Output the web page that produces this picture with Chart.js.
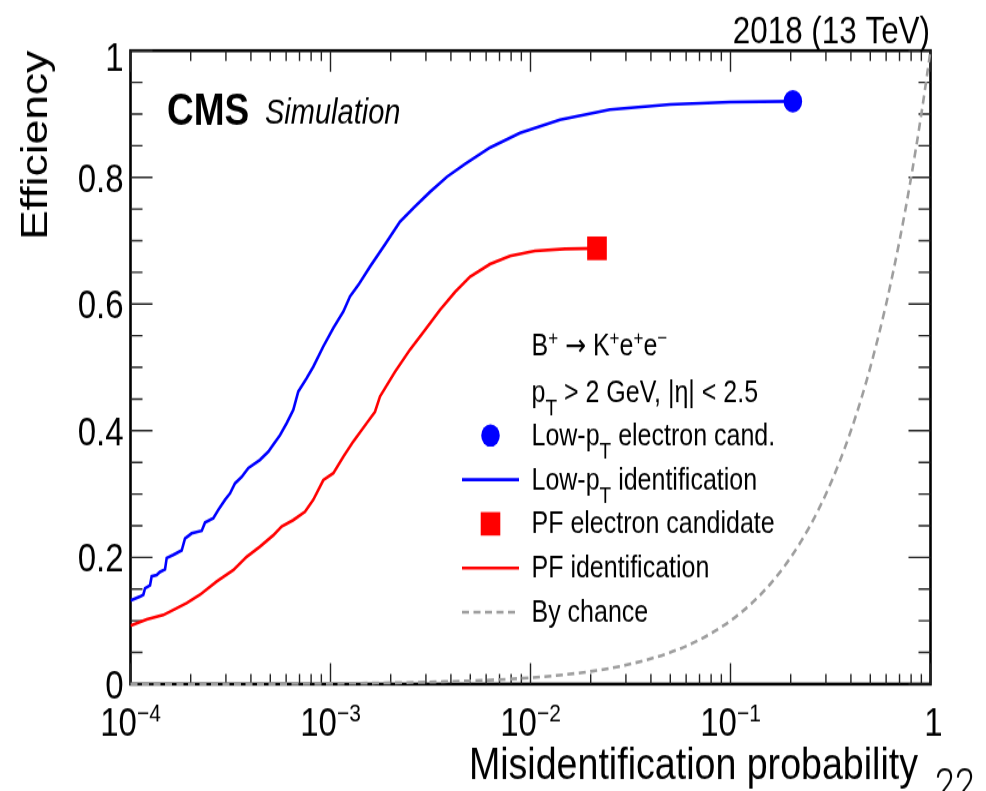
<!DOCTYPE html>
<html>
<head>
<meta charset="utf-8">
<script src="https://cdn.jsdelivr.net/npm/chart.js@4.4.1/dist/chart.umd.min.js"></script>
<style>
  html, body { margin: 0; padding: 0; background: #fff; overflow: hidden; width: 986px; height: 791px; }
  #page { position: relative; width: 986px; height: 791px; }
  #wrap { position: absolute; left: 0; top: 0; width: 986px; height: 659px; transform: scaleY(1.2003); transform-origin: 0 0; }
  canvas { display: block; }
</style>
</head>
<body>
<div id="page"><div id="wrap"><canvas id="c" width="986" height="659"></canvas></div></div>
<script>
// ---- data -------------------------------------------------------------
// Low-pT electron identification: misidentification probability vs efficiency
const lowPtMisid = [1.000e-4, 1.115e-4, 1.159e-4, 1.182e-4, 1.252e-4, 1.276e-4, 1.352e-4, 1.404e-4,
  1.488e-4, 1.517e-4, 1.637e-4, 1.803e-4, 1.873e-4, 2.023e-4, 2.270e-4, 2.358e-4, 2.594e-4,
  2.748e-4, 2.969e-4, 3.145e-4, 3.331e-4, 3.597e-4, 3.882e-4, 4.440e-4, 4.887e-4, 5.176e-4,
  5.592e-4, 6.039e-4, 6.516e-4, 6.902e-4, 7.603e-4, 8.204e-4, 9.204e-4, 1.033e-3, 1.159e-3,
  1.252e-3, 1.377e-3, 1.576e-3, 1.873e-3, 2.225e-3, 2.645e-3, 3.145e-3, 3.825e-3, 4.704e-3,
  6.272e-3, 8.860e-3, 1.404e-2, 2.497e-2, 4.983e-2, 9.940e-2, 2.050e-1];
const lowPtEff = [0.132, 0.138, 0.141, 0.151, 0.156, 0.170, 0.172, 0.177,
  0.181, 0.199, 0.204, 0.211, 0.230, 0.238, 0.242, 0.255, 0.262,
  0.275, 0.291, 0.301, 0.317, 0.327, 0.341, 0.354, 0.367, 0.378,
  0.393, 0.412, 0.433, 0.462, 0.483, 0.501, 0.533, 0.562, 0.588,
  0.612, 0.630, 0.659, 0.694, 0.730, 0.754, 0.777, 0.801, 0.821,
  0.847, 0.870, 0.891, 0.907, 0.915, 0.919, 0.920];

// PF electron identification
const pfMisid = [1.000e-4, 1.205e-4, 1.459e-4, 1.637e-4, 1.910e-4, 2.225e-4, 2.699e-4, 3.266e-4,
  3.811e-4, 4.440e-4, 5.176e-4, 5.702e-4, 6.516e-4, 7.456e-4, 8.204e-4, 9.204e-4, 1.033e-3,
  1.159e-3, 1.300e-3, 1.517e-3, 1.669e-3, 1.768e-3, 2.101e-3, 2.497e-3, 2.969e-3, 3.529e-3,
  4.194e-3, 4.984e-3, 6.272e-3, 7.896e-3, 1.053e-2, 1.488e-2, 2.150e-2];
const pfEff = [0.092, 0.102, 0.109, 0.117, 0.128, 0.141, 0.162, 0.180,
  0.201, 0.217, 0.235, 0.249, 0.259, 0.272, 0.291, 0.322, 0.333,
  0.359, 0.383, 0.412, 0.430, 0.454, 0.493, 0.528, 0.559, 0.591,
  0.619, 0.643, 0.663, 0.676, 0.684, 0.687, 0.688];

// Random guessing: efficiency equals misidentification probability
const chanceMisid = [0.0001, 0.001, 0.003, 0.01, 0.02, 0.03, 0.05, 0.07, 0.1, 0.13, 0.16, 0.2,
  0.25, 0.3, 0.35, 0.4, 0.45, 0.5, 0.6, 0.7, 0.8, 0.9, 1.0];
const chanceEff = [0.0001, 0.001, 0.003, 0.01, 0.02, 0.03, 0.05, 0.07, 0.1, 0.13, 0.16, 0.2,
  0.25, 0.3, 0.35, 0.4, 0.45, 0.5, 0.6, 0.7, 0.8, 0.9, 1.0];

// Working points of the electron candidates [misid, efficiency]
const lowPtCandPoint = [0.205, 0.920];
const pfCandPoint = [0.0215, 0.688];

// Axis ticks
const xTickValues = [1e-4, 1e-3, 1e-2, 1e-1, 1];
const xTickExponents = ['\u22124', '\u22123', '\u22122', '\u22121', ''];
const yTickValues = [0, 0.2, 0.4, 0.6, 0.8, 1];
const yTickLabels = ['0', '0.2', '0.4', '0.6', '0.8', '1'];

// ---- styling helpers ---------------------------------------------------
const FAMILY = '"Liberation Sans", Arial, Helvetica, sans-serif';
const ARROW_FAMILY = '"DejaVu Sans", sans-serif';
const BLUE = '#0000ff', RED = '#ff0000', GREY = '#9e9e9e';
const f = (size, style, fam) => `${style || ''} ${size}px ${fam || FAMILY}`;

// Draw a run of text pieces [text, size, dy, style, family] starting from x
function rich(ctx, x, y, parts, align) {
  ctx.textAlign = 'left';
  const widths = parts.map(p => { ctx.font = f(p[1], p[3], p[4]); return ctx.measureText(p[0]).width; });
  const total = widths.reduce((a, b) => a + b, 0);
  let cx = align === 'center' ? x - total / 2 : (align === 'right' ? x - total : x);
  parts.forEach((p, i) => {
    ctx.font = f(p[1], p[3], p[4]);
    ctx.fillText(p[0], cx, y + (p[2] || 0));
    cx += widths[i];
  });
}

// ROOT-like frame, inward ticks, labels, legend and captions
const rootFrame = {
  id: 'rootFrame',
  beforeDatasetsDraw(chart) {
    const { ctx, chartArea: a, scales: { x, y } } = chart;
    ctx.save();
    ctx.strokeStyle = '#000';
    ctx.lineWidth = 2.6;
    ctx.strokeRect(a.left, a.top, a.right - a.left, a.bottom - a.top);

    ctx.lineWidth = 1.4;
    ctx.strokeStyle = '#222';
    ctx.beginPath();
    // x ticks (bottom and top)
    for (let d = -4; d <= 0; d++) {
      for (let k = 1; k <= 9; k++) {
        const v = k * Math.pow(10, d);
        if (v > 1.0000001) break;
        const px = x.getPixelForValue(v);
        const len = k === 1 ? 17.5 : 8.5;
        ctx.moveTo(px, a.bottom); ctx.lineTo(px, a.bottom - len);
        ctx.moveTo(px, a.top); ctx.lineTo(px, a.top + len);
      }
    }
    // y ticks (left and right)
    for (let i = 0; i <= 20; i++) {
      const v = i * 0.05;
      const py = y.getPixelForValue(v);
      const len = i % 4 === 0 ? 22 : 12;
      ctx.moveTo(a.left, py); ctx.lineTo(a.left + len, py);
      ctx.moveTo(a.right, py); ctx.lineTo(a.right - len, py);
    }
    ctx.stroke();
    ctx.restore();
  },
  afterDraw(chart) {
    const { ctx, chartArea: a, scales: { x, y } } = chart;
    ctx.save();
    ctx.fillStyle = '#000';
    ctx.textBaseline = 'alphabetic';

    // y tick labels
    ctx.font = f(33);
    ctx.textAlign = 'right';
    yTickValues.forEach((v, i) => {
      const shift = v === 1 ? 5 : 0;
      ctx.fillText(yTickLabels[i], a.left - 7, y.getPixelForValue(v) + 11.8 + shift);
    });

    // x tick labels (powers of ten)
    xTickValues.forEach((v, i) => {
      const px = x.getPixelForValue(v);
      if (xTickExponents[i]) {
        rich(ctx, px, 612.5, [['10', 33, 0], [xTickExponents[i], 21, -11.5]], 'center');
      } else {
        rich(ctx, px + 3, 612.5, [['1', 33, 0]], 'center');
      }
    });

    // axis titles
    ctx.font = f(37.6);
    ctx.textAlign = 'right';
    ctx.fillText('Misidentification probability', 918, 648.5);
    ctx.save();
    ctx.translate(47, a.top);
    ctx.rotate(-Math.PI / 2);
    ctx.textAlign = 'right';
    ctx.font = f(37);
    ctx.fillText('Efficiency', 0, 0);
    ctx.restore();

    // captions
    ctx.textAlign = 'left';
    ctx.font = f(37, 'bold');
    ctx.fillText('CMS', 167, 104);
    ctx.font = f(29, 'italic');
    ctx.fillText('Simulation', 265, 103);
    ctx.textAlign = 'right';
    ctx.font = f(31.4);
    ctx.fillText('2018 (13 TeV)', 930, 35.8);

    // legend header
    const tx = 531.5;
    rich(ctx, tx, 295.8, [['B', 25], ['+', 17, -9], [' ', 25], ['\u2192', 25, 0, '', ARROW_FAMILY], [' K', 25],
      ['+', 17, -9], ['e', 25], ['+', 17, -9], ['e', 25], ['\u2212', 17, -9]]);
    rich(ctx, tx, 334.8, [['p', 25], ['T', 19, 11], [' > 2 GeV, |\u03B7| < 2.5', 25]]);

    // legend entries
    const rows = [370.8, 407.6, 444.4, 481.2, 518.0];
    const mx = 490.5, l0 = 462, l1 = 519;
    // circle marker
    ctx.fillStyle = BLUE;
    ctx.beginPath(); ctx.arc(mx, rows[0] - 8, 9.3, 0, Math.PI * 2); ctx.fill();
    // square marker
    ctx.fillStyle = RED;
    ctx.fillRect(mx - 9.8, rows[2] - 8 - 9.8, 19.6, 19.6);
    // line samples
    ctx.lineWidth = 2.6;
    ctx.strokeStyle = BLUE;
    ctx.beginPath(); ctx.moveTo(l0, rows[1] - 8); ctx.lineTo(l1, rows[1] - 8); ctx.stroke();
    ctx.strokeStyle = RED;
    ctx.beginPath(); ctx.moveTo(l0, rows[3] - 8); ctx.lineTo(l1, rows[3] - 8); ctx.stroke();
    ctx.strokeStyle = GREY;
    ctx.setLineDash([7, 4.5]);
    ctx.beginPath(); ctx.moveTo(l0, rows[4] - 8); ctx.lineTo(l1, rows[4] - 8); ctx.stroke();
    ctx.setLineDash([]);

    ctx.fillStyle = '#000';
    rich(ctx, tx, rows[0], [['Low-p', 25], ['T', 19, 11], [' electron cand.', 25]]);
    rich(ctx, tx, rows[1], [['Low-p', 25], ['T', 19, 11], [' identification', 25]]);
    rich(ctx, tx, rows[2], [['PF electron candidate', 25]]);
    rich(ctx, tx, rows[3], [['PF identification', 25]]);
    rich(ctx, tx, rows[4], [['By chance', 25]]);

    // page number
    ctx.textAlign = 'left';
    ctx.font = `300 36px Roboto, ${FAMILY}`;
    ctx.fillText('22', 935, 665.5);
    ctx.restore();
  }
};

const pts = (xs, ys) => xs.map((v, i) => ({ x: v, y: ys[i] }));

new Chart(document.getElementById('c'), {
  type: 'line',
  data: {
    datasets: [
      {
        label: 'By chance',
        data: pts(chanceMisid, chanceEff),
        borderColor: GREY, borderWidth: 2.6, borderDash: [7, 4.5],
        pointRadius: 0, cubicInterpolationMode: 'monotone', clip: 4
      },
      {
        label: 'Low-pT identification',
        data: pts(lowPtMisid, lowPtEff),
        borderColor: BLUE, borderWidth: 2.6, pointRadius: 0, tension: 0
      },
      {
        label: 'PF identification',
        data: pts(pfMisid, pfEff),
        borderColor: RED, borderWidth: 2.6, pointRadius: 0, tension: 0
      },
      {
        type: 'scatter',
        label: 'Low-pT electron cand.',
        data: [{ x: lowPtCandPoint[0], y: lowPtCandPoint[1] }],
        pointStyle: 'circle', pointRadius: 9.3,
        backgroundColor: BLUE, borderColor: BLUE, borderWidth: 0
      },
      {
        type: 'scatter',
        label: 'PF electron candidate',
        data: [{ x: pfCandPoint[0], y: pfCandPoint[1] }],
        pointStyle: 'rect', pointRadius: 13.9,
        backgroundColor: RED, borderColor: RED, borderWidth: 0
      }
    ]
  },
  options: {
    responsive: false,
    animation: false,
    devicePixelRatio: 1,
    events: [],
    layout: { padding: { left: 130.5, right: 55.5, top: 42.2, bottom: 89.1 } },
    scales: {
      x: { type: 'logarithmic', min: 1e-4, max: 1, display: false },
      y: { type: 'linear', min: 0, max: 1, display: false }
    },
    plugins: { legend: { display: false }, tooltip: { enabled: false }, title: { display: false } }
  },
  plugins: [rootFrame]
});
</script>
</body>
</html>
